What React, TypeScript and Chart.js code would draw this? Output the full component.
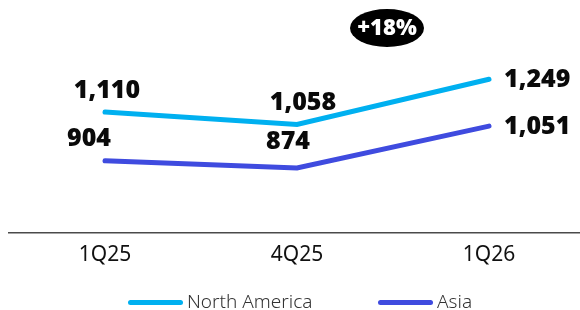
import React, { useEffect, useRef } from "react";
import { Chart, registerables } from "chart.js";

Chart.register(...registerables);

const categories = ["1Q25", "4Q25", "1Q26"];
const northAmerica = [1110, 1058, 1249];
const asia = [904, 874, 1051];
const seriesNames = ["North America", "Asia"];
const seriesColors = ["#00B0F0", "#3F4BDF"];
const naLabels = ["1,110", "1,058", "1,249"];
const asiaLabels = ["904", "874", "1,051"];
const badgeText = "+18%";

// label placement offsets (dx, dy from the point, align)
const labelPlacement = [
  [
    { dx: 2, dy: -21, align: "center" },
    { dx: 6, dy: -22, align: "center" },
    { dx: 15, dy: 1, align: "left" },
  ],
  [
    { dx: -16, dy: -22, align: "center" },
    { dx: -9, dy: -26, align: "center" },
    { dx: 15, dy: 1, align: "left" },
  ],
];

const LABEL_FONT = "800 25px 'Open Sans', 'DejaVu Sans', sans-serif";

const overlayPlugin = {
  id: "overlay",
  afterDatasetsDraw(chart: any) {
    const ctx = chart.ctx;
    const allLabels = [naLabels, asiaLabels];
    ctx.save();
    // data labels
    ctx.font = LABEL_FONT;
    ctx.fillStyle = "#0a0a0a";
    ctx.textBaseline = "middle";
    chart.data.datasets.forEach((ds: any, di: number) => {
      const meta = chart.getDatasetMeta(di);
      meta.data.forEach((pt: any, i: number) => {
        const p = labelPlacement[di][i];
        ctx.textAlign = p.align;
        ctx.fillText(allLabels[di][i], pt.x + p.dx, pt.y + p.dy);
      });
    });
    // badge between 4Q25 and 1Q26
    const xs = chart.scales.x;
    const bx = (xs.getPixelForValue(1) + xs.getPixelForValue(2)) / 2 - 6;
    const by = chart.chartArea.top + 20;
    ctx.fillStyle = "#000";
    ctx.beginPath();
    ctx.ellipse(bx, by, 37, 19, 0, 0, Math.PI * 2);
    ctx.fill();
    ctx.fillStyle = "#fff";
    ctx.textAlign = "center";
    ctx.font = "800 22px 'Open Sans', 'DejaVu Sans', sans-serif";
    ctx.fillText(badgeText, bx, by + 1);

    // legend
    const items = [
      { x0: 128, x1: 183 },
      { x0: 378, x1: 433 },
    ];
    const ly = 302.5;
    chart.data.datasets.forEach((ds: any, di: number) => {
      const it = items[di];
      ctx.strokeStyle = ds.borderColor;
      ctx.lineWidth = 5;
      ctx.lineCap = "round";
      ctx.beginPath();
      ctx.moveTo(it.x0 + 2.5, ly);
      ctx.lineTo(it.x1 - 2.5, ly);
      ctx.stroke();
      ctx.fillStyle = "#333";
      ctx.font = "300 19px 'Noto Sans', sans-serif";
      ctx.textAlign = "left";
      ctx.textBaseline = "alphabetic";
      ctx.fillText(ds.label, it.x1 + 4, 308);
    });
    ctx.restore();
  },
};

export default function App() {
  const ref = useRef<HTMLCanvasElement | null>(null);
  useEffect(() => {
    if (!ref.current) return;
    const chart = new Chart(ref.current, {
      type: "line",
      data: {
        labels: categories,
        datasets: [
          {
            label: seriesNames[0],
            data: northAmerica,
            borderColor: seriesColors[0],
            backgroundColor: seriesColors[0],
            borderWidth: 5,
            pointRadius: 0,
            borderCapStyle: "round",
            tension: 0,
          },
          {
            label: seriesNames[1],
            data: asia,
            borderColor: seriesColors[1],
            backgroundColor: seriesColors[1],
            borderWidth: 5,
            pointRadius: 0,
            borderCapStyle: "round",
            tension: 0,
          },
        ],
      },
      options: {
        responsive: false,
        animation: false,
        layout: { padding: { left: 9, right: 5, top: 8, bottom: 32 } },
        plugins: {
          legend: { display: false },
          tooltip: { enabled: false },
        },
        scales: {
          x: {
            offset: true,
            grid: { display: false, drawTicks: false },
            border: { display: true, color: "#4a4a4a", width: 1.5 },
            ticks: {
              color: "#111",
              padding: 10,
              font: { family: "'Noto Sans', sans-serif", size: 21 },
            },
          },
          y: {
            display: false,
            min: 600,
            max: 1550,
          },
        },
      },
      plugins: [overlayPlugin],
    } as any);
    return () => chart.destroy();
  }, []);
  return (
    <div
      style={{
        position: "fixed",
        left: 0,
        top: 0,
        width: 580,
        height: 310,
        overflow: "hidden",
        background: "#fff",
      }}
    >
      <canvas ref={ref} width={590} height={310} style={{ width: 590, height: 310, display: "block" }} />
    </div>
  );
}
